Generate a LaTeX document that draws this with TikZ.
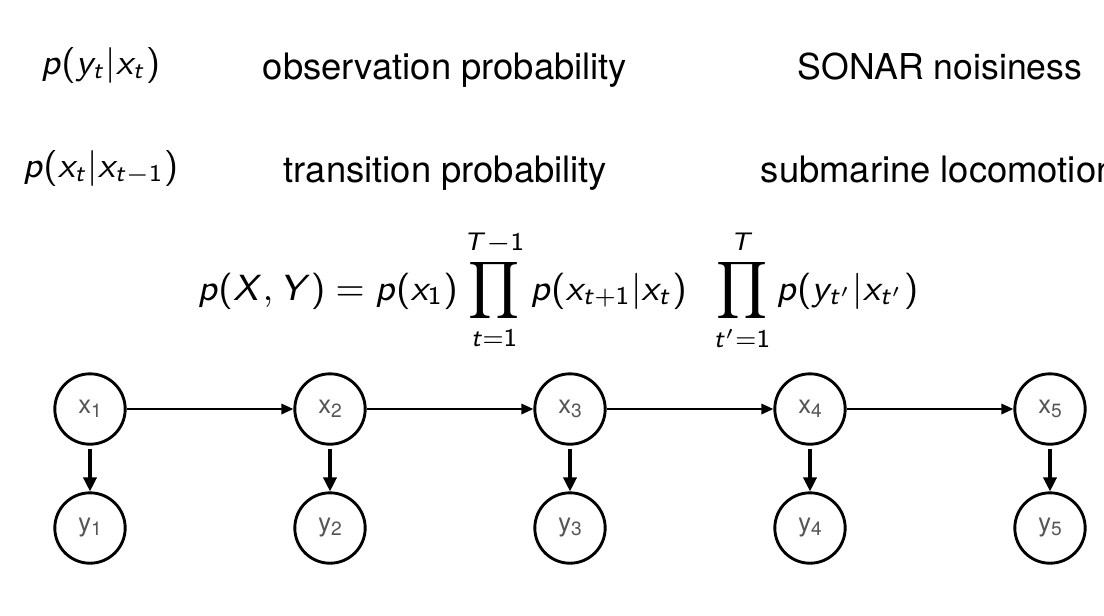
\RequirePackage{fix-cm}
\documentclass[tikz,border=0pt]{standalone}
\usepackage[no-math]{fontspec}
\setmainfont{TeX Gyre Heros}
\usetikzlibrary{arrows.meta}
\DeclareSymbolFont{operators}{OT1}{cmss}{m}{n}
\DeclareSymbolFont{sfletters}{OT1}{cmss}{m}{sl}
\makeatletter
\count@=`a
\loop\ifnum\count@<`z\relax
  \mathcode\count@=\numexpr "7000+\symsfletters*"100+\count@\relax
  \advance\count@ by 1
\repeat
\mathcode`z=\numexpr "7000+\symsfletters*"100+`z\relax
\count@=`A
\loop\ifnum\count@<`Z\relax
  \mathcode\count@=\numexpr "7000+\symsfletters*"100+\count@\relax
  \advance\count@ by 1
\repeat
\mathcode`Z=\numexpr "7000+\symsfletters*"100+`Z\relax
\makeatother
\definecolor{labelgray}{HTML}{555555}
\tikzset{
  txt/.style={anchor=base west, inner sep=0pt, font=\fontsize{9.1}{11}\selectfont},
  mth/.style={anchor=base west, inner sep=0pt, font=\fontsize{9}{11}\selectfont},
  var/.style={circle, draw, line width=0.72pt, minimum size=17.6pt, inner sep=0pt,
    text=labelgray, font=\fontsize{6.4}{7}\selectfont},
  harrow/.style={line width=0.5pt, -{Triangle[length=3pt,width=2.6pt]}},
  varrow/.style={line width=0.78pt, -{Triangle[length=3.5pt,width=3.3pt]}, shorten <=0.8pt},
}
\newcommand{\sub}[2]{\raisebox{-0.35ex}{#1\raisebox{-0.3ex}{\fontsize{4.8}{5}\selectfont #2}}}
\begin{document}
\begin{tikzpicture}[x=0.25pt,y=-0.25pt]
\useasboundingbox (0,0) rectangle (1104,615);
\fill[white] (0,0) rectangle (1104,615);
% text rows
\node[mth] (m1) at (40,74) {$p(y_t|x_t)$};
\node[txt] (t1) at (262,79) {observation probability};
\node[txt, font=\fontsize{8.9}{11}\selectfont] (s1) at (797,79) {SONAR noisiness};
\node[mth] (m2) at (22,177) {$p(x_t|x_{t-1})$};
\node[txt] (t2) at (283,182) {transition probability};
\node[txt] (s2) at (760,182) {submarine locomotion};
% equation
\node[anchor=base, inner sep=0pt, font=\fontsize{9.1}{12}\selectfont] (eq) at (558,300)
  {$\displaystyle p(X, Y) = p(x_1) \prod_{t=1}^{T-1} p(x_{t+1}|x_t)\;\;\prod_{t'=1}^{T} p(y_{t'}|x_{t'})$};
% graph
\foreach \i/\x in {1/90,2/330,3/570,4/810,5/1050}{
  \node[var] (x\i) at (\x,409) {\sub{x}{\i}};
  \node[var] (y\i) at (\x,528) {\sub{y}{\i}};
  \draw[varrow] (x\i) -- (y\i);
}
\foreach \a/\b in {1/2,2/3,3/4,4/5}{
  \draw[harrow] (x\a) -- (x\b);
}
\end{tikzpicture}
\end{document}
